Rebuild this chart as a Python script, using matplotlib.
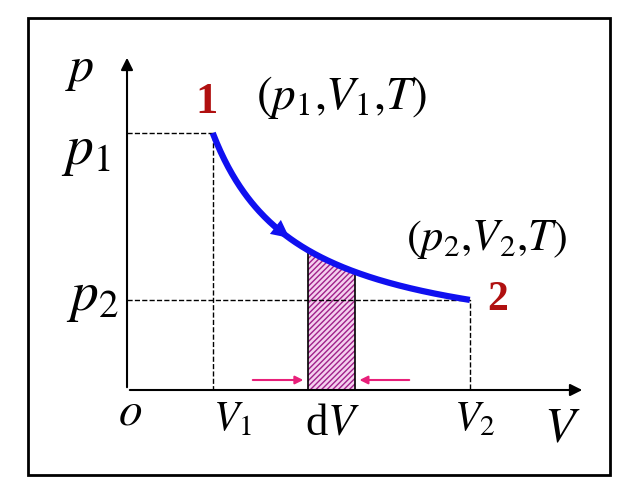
import numpy as np
import matplotlib.pyplot as plt
from matplotlib.patches import Rectangle

plt.rcParams['font.family'] = ['Liberation Serif', 'DejaVu Serif']
plt.rcParams['mathtext.fontset'] = 'stix'

# state points of the isothermal process
V1, V2 = 1.0, 4.0
p1 = 3.0
p2 = p1 * V1 / V2
strip = [2.11, 2.66]   # dV strip
p_axis = -0.464        # p value where the V axis sits

V = np.linspace(V1, V2, 200)
p = p1 * V1 / V

fig = plt.figure(figsize=(6.36, 4.97), dpi=100)
ax = fig.add_axes([0, 0, 1, 1])
ax.set_xlim(-1.482, 5.939)
ax.set_ylim(-1.906, 4.792)
ax.axis('off')

def px(x, y):
    # image pixel -> data
    return (x - 127) / 85.7, p_axis + (390 - y) / 74.2

# frame
x0, y0 = px(28, 475)
x1, y1 = px(610, 18)
ax.add_patch(Rectangle((x0, y0), x1 - x0, y1 - y0, fill=False, lw=2, ec='black'))

# axes arrows
xe, _ = px(585, 390)
_, ye = px(127, 55)
ax.annotate('', xy=(xe, p_axis), xytext=(0, p_axis),
            arrowprops=dict(arrowstyle='-|>', lw=1.5, color='black', mutation_scale=18))
ax.annotate('', xy=(0, ye), xytext=(0, p_axis),
            arrowprops=dict(arrowstyle='-|>', lw=1.5, color='black', mutation_scale=18))

# dashed guides
ax.plot([0, V1, V1], [p1, p1, p_axis], 'k--', lw=1)
ax.plot([0, V2, V2], [p2, p2, p_axis], 'k--', lw=1)

# strip
sv = np.linspace(strip[0], strip[1], 50)
ax.fill_between(sv, p_axis, p1 * V1 / sv, facecolor='#f4d0ee', edgecolor='#a0208a',
                hatch='//////', lw=0)
ax.plot([strip[0], strip[0]], [p_axis, p1 * V1 / strip[0]], 'k-', lw=1.2)
ax.plot([strip[1], strip[1]], [p_axis, p1 * V1 / strip[1]], 'k-', lw=1.2)

# curve
ax.plot(V, p, color='#1010f0', lw=4.5, solid_capstyle='butt')
va, vb = 1.72, 1.92
ax.annotate('', xy=(vb, p1 / vb), xytext=(va, p1 / va),
            arrowprops=dict(arrowstyle='-|>', color='#1010f0', lw=0, mutation_scale=32))

# pink arrows
ya = px(0, 380)[1]
ax.annotate('', xy=(strip[0] - 0.02, ya), xytext=(px(250, 0)[0], ya),
            arrowprops=dict(arrowstyle='-|>', color='#e8207a', lw=1.5, mutation_scale=12))
ax.annotate('', xy=(strip[1] + 0.02, ya), xytext=(px(412, 0)[0], ya),
            arrowprops=dict(arrowstyle='-|>', color='#e8207a', lw=1.5, mutation_scale=12))

def txt(x, y, s, size=30, **kw):
    ax.text(*px(x, y), s, fontsize=size, ha='center', va='center', **kw)

txt(80, 70, r'$p$', 36)
txt(86, 152, r'$p_1$', 40)
txt(92, 298, r'$p_2$', 40)
txt(130, 413, r'$o$', 34)
txt(232, 420, r'$V_1$', 30)
txt(332, 424, r'd$V$', 32)
txt(475, 420, r'$V_2$', 30)
txt(562, 430, r'$V$', 36)
txt(206, 102, '1', 32, color='#b01010', fontweight='bold')
txt(342, 98, r'$(p_1{,}V_1{,}T)$', 34)
txt(487, 240, r'$(p_2{,}V_2{,}T)$', 32)
txt(498, 300, '2', 30, color='#b01010', fontweight='bold')

fig.savefig('out.png', dpi=100)
